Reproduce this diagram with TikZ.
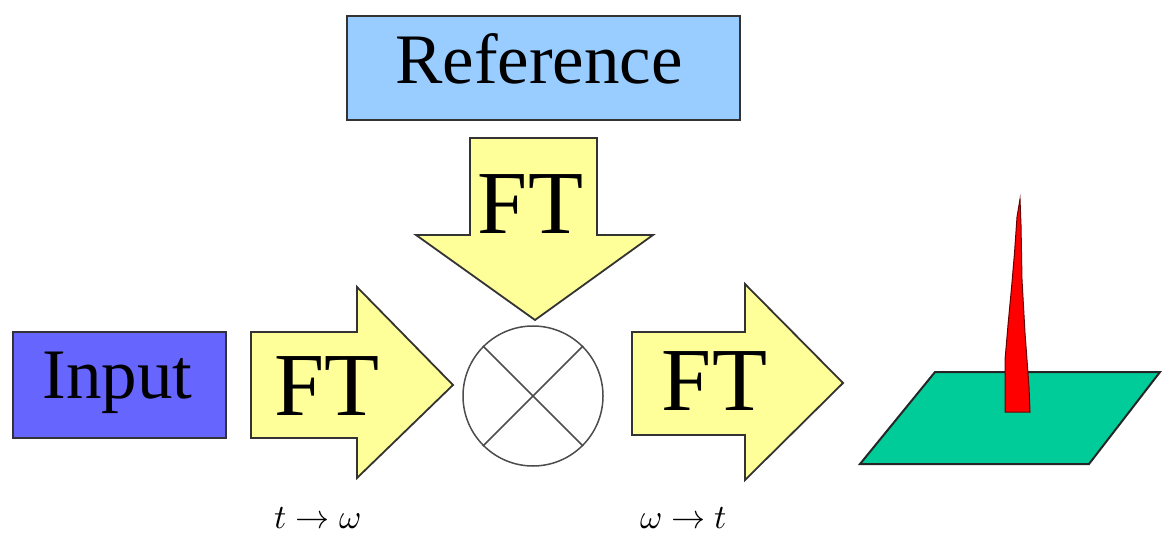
\documentclass[tikz,border=0pt]{standalone}
\usepackage{fontspec}
\usepackage{unicode-math}
\setmainfont{Liberation Serif}
\setmathfont{Latin Modern Math}
\definecolor{refblue}{HTML}{99CCFF}
\definecolor{inblue}{HTML}{6666FF}
\definecolor{ftyellow}{HTML}{FFFF99}
\definecolor{planegreen}{HTML}{00CC99}
\definecolor{spikered}{HTML}{FF0000}
\definecolor{edge}{HTML}{333333}
\begin{document}
\begin{tikzpicture}[x=1pt,y=-1pt,line join=miter,
  boxstyle/.style={draw=edge,line width=2pt,inner sep=0pt,anchor=north west},
  blockarrow/.style={draw=edge,line width=1.8pt,fill=ftyellow},
  bigtext/.style={inner sep=0pt,anchor=base,font=\fontsize{71}{71}\selectfont},
  fttext/.style={inner sep=0pt,anchor=base,font=\fontsize{90}{90}\selectfont},
  mathlbl/.style={inner sep=0pt,anchor=base,font=\fontsize{34}{34}\selectfont}]
\useasboundingbox (0,0) rectangle (1162,535);
% boxes
\node[boxstyle,fill=refblue,minimum width=393pt,minimum height=104pt] (refbox) at (346,15) {};
\node[bigtext] (reftext) at (539,83) {Reference};
\node[boxstyle,fill=inblue,minimum width=213pt,minimum height=106pt] (inbox) at (12,331) {};
\node[bigtext] (intext) at (117.5,398) {Input};
% block arrows
\draw[blockarrow] (251,332) -- (357,332) -- (357,287) -- (453,385) -- (357,478) -- (357,438) -- (251,438) -- cycle;
\node[fttext] (ftleft) at (327,415) {FT};
\draw[blockarrow] (470,138) -- (597,138) -- (597,235) -- (653,235) -- (535,320) -- (416,235) -- (470,235) -- cycle;
\node[fttext] (fttop) at (530.5,233) {FT};
\draw[blockarrow] (632,332) -- (745,332) -- (745,284) -- (843,383) -- (745,480) -- (745,435) -- (632,435) -- cycle;
\node[fttext] (ftright) at (714.5,410) {FT};
% multiplier
\node[circle,draw=black!70,line width=1.5pt,minimum size=140pt,inner sep=0pt] (mult) at (533,396) {};
\draw[black!70,line width=1.5pt] (mult.45) -- (mult.225);
\draw[black!70,line width=1.5pt] (mult.135) -- (mult.315);
% plane with spike
\draw[fill=planegreen,draw=black!85,line width=2pt] (860,464) -- (1089,464) -- (1160,372) -- (935,372) -- cycle;
\draw[fill=spikered,draw=black!60!red,line width=1pt] (1005,412) -- (1005,360) -- (1008,325) -- (1011.5,288) -- (1014.5,253) -- (1017,217) -- (1020,199) -- (1021,225) -- (1022,280) -- (1025,333) -- (1029,387) -- (1030,412) -- cycle;
% labels
\node[mathlbl] (lbla) at (317.5,528) {$t\rightarrow\omega$};
\node[mathlbl] (lblb) at (683.5,528) {$\omega\rightarrow t$};
\end{tikzpicture}
\end{document}
